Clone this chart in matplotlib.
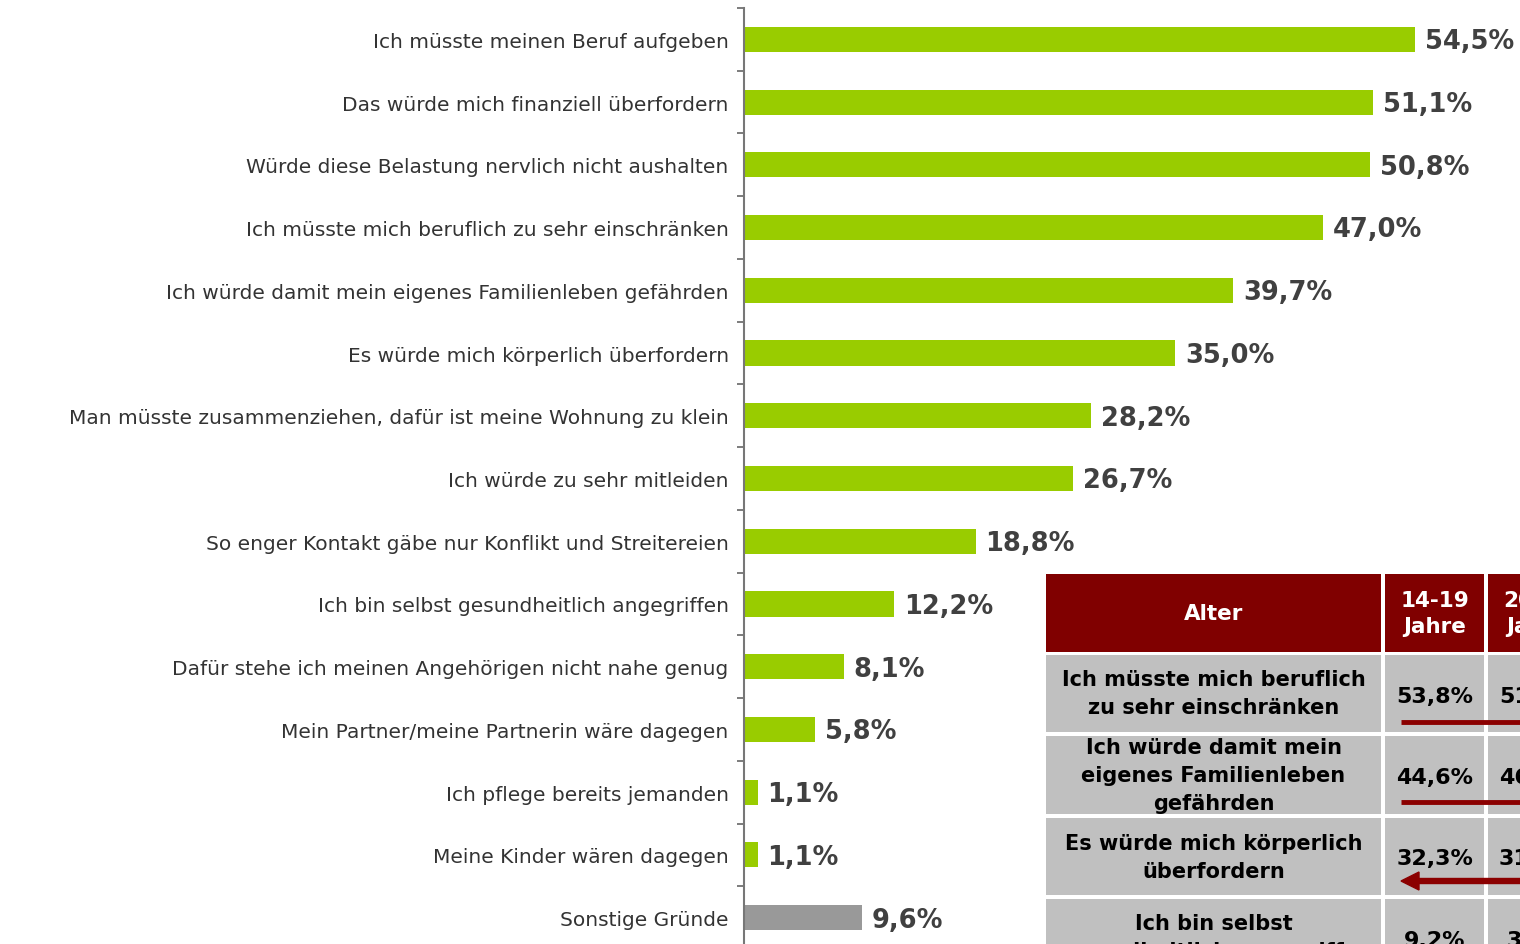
import matplotlib.pyplot as plt
from matplotlib.patches import Rectangle, FancyArrow

# Gründe gegen die Pflege von Angehörigen
reasons = [
    'Ich müsste meinen Beruf aufgeben',
    'Das würde mich finanziell überfordern',
    'Würde diese Belastung nervlich nicht aushalten',
    'Ich müsste mich beruflich zu sehr einschränken',
    'Ich würde damit mein eigenes Familienleben gefährden',
    'Es würde mich körperlich überfordern',
    'Man müsste zusammenziehen, dafür ist meine Wohnung zu klein',
    'Ich würde zu sehr mitleiden',
    'So enger Kontakt gäbe nur Konflikt und Streitereien',
    'Ich bin selbst gesundheitlich angegriffen',
    'Dafür stehe ich meinen Angehörigen nicht nahe genug',
    'Mein Partner/meine Partnerin wäre dagegen',
    'Ich pflege bereits jemanden',
    'Meine Kinder wären dagegen',
    'Sonstige Gründe',
]
shares = [54.5, 51.1, 50.8, 47.0, 39.7, 35.0, 28.2, 26.7, 18.8, 12.2, 8.1, 5.8, 1.1, 1.1, 9.6]

# Tabelle nach Alter (rechts abgeschnitten)
age_groups = ['14-19\nJahre', '20-29\nJahre']
table_rows = [
    'Ich müsste mich beruflich\nzu sehr einschränken',
    'Ich würde damit mein\neigenes Familienleben\ngefährden',
    'Es würde mich körperlich\nüberfordern',
    'Ich bin selbst\ngesundheitlich angegriffen',
]
age_14_19 = [53.8, 44.6, 32.3, 9.2]
age_20_29 = [51.0, 46.0, 31.0, 3.0]

green = '#99cc00'
grey_bar = '#999999'
text_col = '#333333'
dark_red = '#800000'

fig = plt.figure(figsize=(15.2, 9.45), dpi=100)
W, H = 1520, 945
ax = fig.add_axes([744 / W, 0, (W - 744) / W, (H - 9) / H])

y = list(range(len(reasons)))
colors = [green] * (len(reasons) - 1) + [grey_bar]
ax.barh(y, shares, height=0.4, color=colors)
for yi, v in zip(y, shares):
    ax.text(v + 0.8, yi + 0.03, f'{v:.1f}%'.replace('.', ','), va='center', ha='left',
            fontsize=18.5, fontweight='bold', color='#404040')

ax.set_xlim(0, 63)
ax.set_ylim(14.42, -0.5)
ax.set_yticks(y)
ax.set_yticklabels(reasons, fontsize=14.5, color=text_col)
ax.tick_params(axis='y', which='major', length=0, pad=11)
ax.set_yticks([i - 0.5 for i in y], minor=True)
ax.tick_params(axis='y', which='minor', length=5, width=1.2, color='#666666')
ax.set_xticks([])
for s in ['top', 'right', 'bottom']:
    ax.spines[s].set_visible(False)
ax.spines['left'].set_color('#777777')
ax.spines['left'].set_linewidth(1.5)

# Tabelle als Overlay in Pixelkoordinaten
axt = fig.add_axes([0, 0, 1, 1], zorder=5)
axt.set_xlim(0, W)
axt.set_ylim(H, 0)
axt.axis('off')

col_x = [(1046, 1381), (1385, 1484), (1488, 1587)]
row_y = [(575, 653), (656, 733), (737, 815), (819, 896), (900, 977)]


def cell(x0, x1, y0, y1, color):
    r = Rectangle((x0, y0), x1 - x0, y1 - y0, facecolor=color, edgecolor='none')
    axt.add_patch(r)
    return r


hy0, hy1 = row_y[0]
cell(*col_x[0], hy0, hy1, dark_red)
axt.text(sum(col_x[0]) / 2, (hy0 + hy1) / 2, 'Alter', ha='center', va='center',
         color='white', fontsize=15.5, fontweight='bold')
for (x0, x1), g in zip(col_x[1:], age_groups):
    cell(x0, x1, hy0, hy1, dark_red)
    axt.text((x0 + x1) / 2, (hy0 + hy1) / 2, g, ha='center', va='center', color='white',
             fontsize=15.5, fontweight='bold', linespacing=1.4)

for k, label in enumerate(table_rows):
    y0, y1 = row_y[k + 1]
    r = cell(*col_x[0], y0, y1, '#c0c0c0')
    t = axt.text(sum(col_x[0]) / 2, (y0 + y1) / 2, label, ha='center', va='center',
                 color='black', fontsize=15, fontweight='bold', linespacing=1.5)
    t.set_clip_path(r)
    for (x0, x1), vals in zip(col_x[1:], [age_14_19, age_20_29]):
        rc = cell(x0, x1, y0, y1, '#c0c0c0')
        tv = axt.text((x0 + x1) / 2, (y0 + y1) / 2 + 2, f'{vals[k]:.1f}%'.replace('.', ','),
                      ha='center', va='center', color='black', fontsize=16, fontweight='bold')
        tv.set_clip_path(rc)

# Pfeile (Trend)
axt.plot([1401, 1530], [723, 723], color='#8b0000', lw=3.5, solid_capstyle='butt')
axt.plot([1401, 1530], [803, 803], color='#8b0000', lw=3.5, solid_capstyle='butt')
axt.add_patch(FancyArrow(1530, 882, -129, 0, width=5, head_width=18, head_length=18,
                         length_includes_head=True, color='#8b0000'))

fig.savefig('out.png', dpi=100)
